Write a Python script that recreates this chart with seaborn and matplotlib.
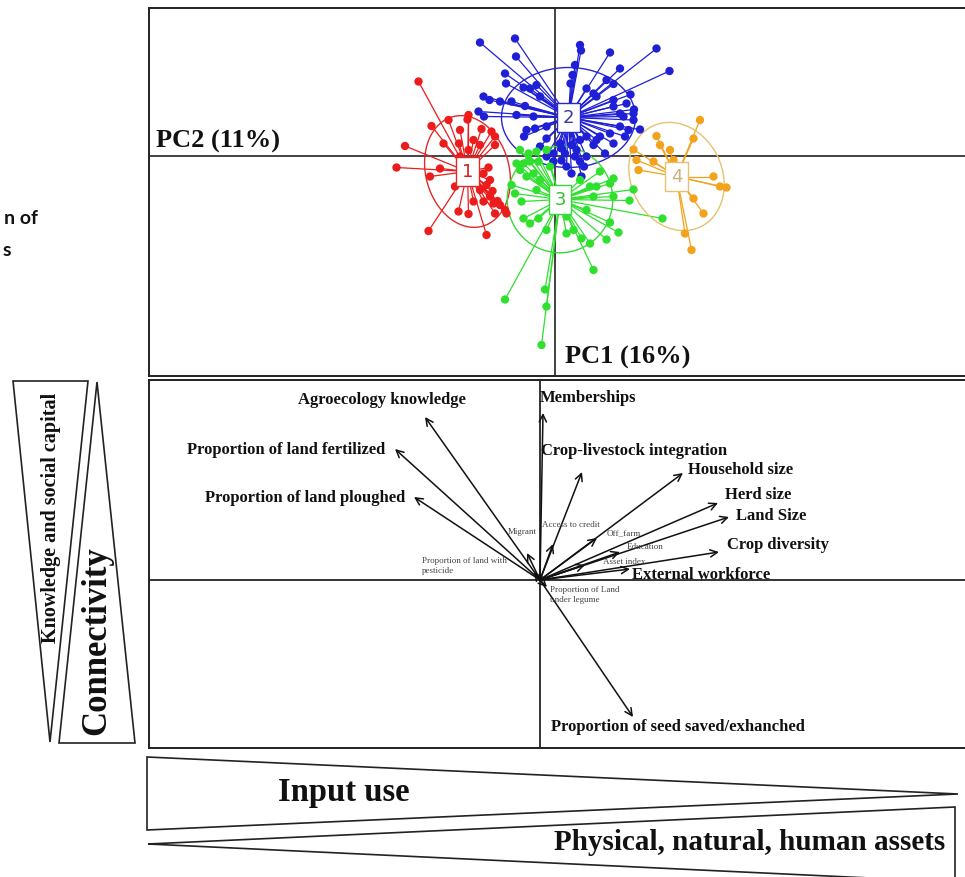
import numpy as np
import pandas as pd
import matplotlib
matplotlib.use("Agg")
import matplotlib.pyplot as plt
import seaborn as sns
from matplotlib.patches import Ellipse, Polygon
from matplotlib.collections import LineCollection

sns.set_style("white")
plt.rcParams['font.family'] = ['Liberation Serif', 'DejaVu Serif']

# ---------------- Data: individual PCA scores per cluster ----------------
c1_x = [-2.73, -3.00, -3.17, -2.50, -2.53, -1.93, -1.73, -1.37, -0.97, -1.20, -2.47, -2.23, -1.90,
        -1.73, -1.75, -1.47, -1.27, -1.20, -1.20, -1.50, -1.73, -1.92, -2.30, -1.33, -1.43, -1.37,
        -1.30, -1.43, -1.63, -1.23, -1.10, -1.00, -1.50, -2.00, -2.13, -1.25, -1.15, -1.63, -1.90,
        -1.30]
c1_y = [1.49, 0.20, -0.23, -0.41, -1.50, -1.11, -1.16, -1.58, -1.15, -1.15, 0.60, 0.25, 0.52,
        0.82, 0.73, 0.54, 0.49, 0.39, 0.22, 0.22, 0.12, 0.25, -0.25, -0.23, -0.35, -0.58,
        -0.81, -0.91, -0.91, -0.95, -0.98, -1.08, -0.68, -0.61, 0.72, -0.70, -0.90, 0.32, -0.01,
        -0.48]

c2_x = [-1.50, -0.80, 0.50, 0.52, 1.10, 2.03, 2.29, 1.30, -0.78, -1.00, -0.98, 0.40, 0.35, 0.31,
        1.03, 1.17, 1.51, 1.58, 1.57, 1.70, -1.43, -1.31, -1.10, -1.53, -1.42, -0.57, -0.62, -0.17,
        -0.03, 0.13, 0.33, 0.53, 0.58, 0.77, 1.17, 1.00, 1.40, 1.47, 0.13, 0.40, -0.03, -0.60,
        -0.63, 0.63, -0.40, -0.17, 1.30, 1.17, 0.77, -0.37, -0.87, 0.23, 0.50, 0.83, 0.10,
        -0.50, -0.30, 0.63, 0.83, 1.17, 1.37, 1.30, 1.10, 0.90, 0.50, 0.33, 0.20, 0.43, 0.63,
        -0.17, -0.30, -0.77, -0.43, 1.43, 1.57]
c2_y = [2.27, 2.35, 2.22, 2.11, 2.07, 2.15, 1.70, 1.75, 1.99, 1.65, 1.45, 1.82, 1.62, 1.45,
        1.52, 1.44, 1.23, 0.93, 0.72, 0.53, 1.19, 1.12, 1.09, 0.89, 0.79, 0.52, 0.39, 0.35,
        0.05, -0.09, -0.35, -0.41, -0.21, 0.22, 0.25, 0.05, 0.39, 0.52, 0.15, -0.01, -0.11, 1.00,
        1.37, 0.39, 0.55, 0.59, 0.85, 1.12, 1.25, 1.42, 1.09, -0.21, -0.11, 0.32, 0.25,
        1.35, 1.19, 1.35, 1.19, 0.99, 0.79, 0.59, 0.45, 0.39, 0.32, 0.22, 0.05, 0.12, -0.01,
        -0.01, 0.19, 0.82, 0.79, 1.05, 0.85]

c3_x = [-1.00, -0.27, -0.20, -0.17, 0.77, 1.27, 1.10, 1.03, 1.57, 1.49, 2.15, 1.17, 0.90, 0.70,
        0.37, 0.53, 0.70, 0.23, -0.80, -0.87, -0.70, -0.53, -0.37, -0.17, -0.70, -0.57, -0.43,
        -0.30, -0.67, -0.63, -0.33, -0.77, 0.77, 0.63, -0.37, -0.50, -0.63, -0.33, -0.10, 0.50,
        0.83, 1.10, 1.17, 0.23, -0.17, -0.50]
c3_y = [-2.87, -3.78, -2.67, -3.01, -2.28, -1.53, -1.33, -1.67, -0.67, -0.89, -1.25, -0.45, -0.31, -0.61,
        -1.48, -1.65, -1.75, -1.21, -0.75, -0.58, 0.12, 0.05, 0.09, 0.12, -0.28, -0.41, -0.35,
        -0.48, -0.91, -1.25, -1.25, -0.15, -0.81, -1.08, -0.68, -0.11, -0.15, -0.11, -0.21, -0.48,
        -0.61, -0.55, -0.81, -1.55, -1.48, -1.35]

c4_x = [2.90, 2.03, 2.10, 2.30, 1.57, 1.63, 1.97, 1.67, 3.43, 3.30, 2.77, 2.97, 2.60, 2.73, 2.77, 3.17, 2.37]
c4_y = [0.72, 0.40, 0.22, 0.12, 0.13, -0.08, -0.11, -0.28, -0.63, -0.61, -0.85, -1.15, -1.55, -1.88, 0.35, -0.41, -0.08]

cluster_names = ["1", "2", "3", "4"]
centroid_x = [-1.75, 0.27, 0.10, 2.43]
centroid_y = [-0.31, 0.77, -0.87, -0.41]
ellipse_w = [1.67, 2.68, 2.11, 1.83]
ellipse_h = [2.27, 2.00, 2.13, 2.23]
ellipse_angle = [15, 0, 0, 25]
cluster_colors = ["#ec1c1c", "#1f1fd6", "#2fe02f", "#f3a21c"]
ellipse_colors = ["#e02a2a", "#2727cc", "#3ad83a", "#e6c270"]
label_text_colors = ["#d02020", "#3a3aa0", "#30c030", "#c8b080"]

pc1_label = "PC1 (16%)"
pc2_label = "PC2 (11%)"

# ---------------- Data: variable loadings ----------------
big_vars = ["Agroecology knowledge", "Proportion of land fertilized", "Proportion of land ploughed",
            "Memberships", "Crop-livestock integration", "Household size", "Herd size",
            "Land Size", "Crop diversity", "External workforce", "Proportion of seed saved/exhanched"]
big_x = [-1.15, -1.45, -1.26, 0.03, 0.42, 1.43, 1.78, 1.89, 1.79, 0.90, 0.93]
big_y = [1.63, 1.31, 0.83, 1.67, 1.08, 1.07, 0.77, 0.63, 0.28, 0.11, -1.37]

small_vars = ["Migrant", "Proportion of land with\npesticide", "Access to credit", "Off_farm",
              "Education", "Asset index", "Proportion of Land\nunder legume"]
small_x = [-0.13, -0.06, 0.13, 0.57, 0.80, 0.45, 0.07]
small_y = [0.27, 0.08, 0.36, 0.42, 0.28, 0.15, -0.07]

# label placement (data units) and alignment
big_lab_x = [-1.58, -1.55, -1.35, 0.00, 0.01, 1.48, 1.85, 1.96, 1.87, 0.92, 0.11]
big_lab_y = [1.80, 1.30, 0.82, 1.82, 1.29, 1.10, 0.85, 0.64, 0.35, 0.05, -1.47]
big_lab_ha = ["center", "right", "right", "left", "left", "left", "left", "left", "left", "left", "left"]
small_lab_x = [-0.03, -1.18, 0.02, 0.67, 0.87, 0.63, 0.10]
small_lab_y = [0.48, 0.14, 0.55, 0.47, 0.33, 0.18, -0.15]
small_lab_ha = ["right", "left", "left", "left", "left", "left", "left"]

# ---------------- Figure ----------------
W, H = 965, 877
fig = plt.figure(figsize=(W / 100, H / 100), dpi=100)

bg = fig.add_axes([0, 0, 1, 1], zorder=0)
bg.set_xlim(0, W)
bg.set_ylim(H, 0)
bg.axis("off")

def panel(top, bottom):
    return fig.add_axes([149 / W, (H - bottom) / H, (W - 149) / W, (bottom - top) / H], zorder=2)

# ---- top panel: individuals by cluster ----
ax1 = panel(8, 376)
ax1.set_xlim((149 - 555) / 50, (W - 555) / 50)
ax1.set_ylim((156 - 376) / 50, (156 - 8) / 50)

xs = [c1_x, c2_x, c3_x, c4_x]
ys = [c1_y, c2_y, c3_y, c4_y]
rows = []
for name, cx, cy in zip(cluster_names, xs, ys):
    for a, b in zip(cx, cy):
        rows.append((name, a, b))
df = pd.DataFrame(rows, columns=["cluster", "PC1", "PC2"])

ax1.axhline(0, color="#111", lw=1.1, zorder=1)
ax1.axvline(0, color="#111", lw=1.1, zorder=1)

for i, name in enumerate(cluster_names):
    sub = df[df.cluster == name]
    segs = [[(centroid_x[i], centroid_y[i]), (a, b)] for a, b in zip(sub.PC1, sub.PC2)]
    ax1.add_collection(LineCollection(segs, colors=cluster_colors[i], linewidths=0.9, zorder=2))
    ax1.add_patch(Ellipse((centroid_x[i], centroid_y[i]), ellipse_w[i], ellipse_h[i],
                          angle=ellipse_angle[i], fill=False, ec=ellipse_colors[i], lw=1.0, zorder=2))

sns.scatterplot(data=df, x="PC1", y="PC2", hue="cluster", palette=dict(zip(cluster_names, cluster_colors)),
                s=36, linewidth=0, legend=False, ax=ax1, zorder=3)

for i, name in enumerate(cluster_names):
    ax1.text(centroid_x[i], centroid_y[i], name, ha="center", va="center", fontsize=13,
             family="DejaVu Sans", color=label_text_colors[i], zorder=5,
             bbox=dict(boxstyle="square,pad=0.3", fc="white", ec=ellipse_colors[i], lw=1.0))

ax1.text((156 - 555) / 50, (156 - 141) / 50, pc2_label, ha="left", va="center",
         fontsize=19, weight="bold", color="#111")
ax1.text((565 - 555) / 50, (156 - 357) / 50, pc1_label, ha="left", va="center",
         fontsize=19, weight="bold", color="#111")

# ---- bottom panel: variable arrows ----
ax2 = panel(380, 748)
ax2.set_xlim((149 - 540) / 100, (W - 540) / 100)
ax2.set_ylim((580 - 748) / 100, (580 - 380) / 100)
ax2.axhline(0, color="#111", lw=1.2, zorder=1)
ax2.axvline(0, color="#111", lw=1.2, zorder=1)

for tx, ty in zip(big_x + small_x, big_y + small_y):
    ax2.annotate("", xy=(tx, ty), xytext=(0, 0),
                 arrowprops=dict(arrowstyle="->", lw=1.1, color="#111", mutation_scale=13,
                                 shrinkA=0, shrinkB=0), zorder=3)

for lab, lx, ly, ha in zip(big_vars, big_lab_x, big_lab_y, big_lab_ha):
    ax2.text(lx, ly, lab, ha=ha, va="center", fontsize=12, weight="bold", color="#111")
for lab, lx, ly, ha in zip(small_vars, small_lab_x, small_lab_y, small_lab_ha):
    ax2.text(lx, ly, lab, ha=ha, va="center", fontsize=6.5, color="#444", linespacing=1.3)

for ax in (ax1, ax2):
    ax.set_xticks([])
    ax.set_yticks([])
    ax.set_xlabel("")
    ax.set_ylabel("")
    for side in ("left", "top", "bottom"):
        ax.spines[side].set_color("#222")
        ax.spines[side].set_linewidth(1.4)
    ax.spines["right"].set_visible(False)

# ---- gradient triangles (decoration) ----
tri_kw = dict(closed=True, fill=False, ec="#222", lw=1.2)
bg.add_patch(Polygon([(13, 381), (88, 381), (50, 742)], **tri_kw))
bg.add_patch(Polygon([(97, 382), (59, 743), (135, 743)], **tri_kw))
bg.add_patch(Polygon([(147, 757), (147, 830), (958, 794)], **tri_kw))
bg.add_patch(Polygon([(148, 844), (955, 807), (955, 882)], **tri_kw))

bg.text(51, 518, "Knowledge and social capital", rotation=90, ha="center", va="center",
        fontsize=14.5, weight="bold", color="#111")
bg.text(97, 641, "Connectivity", rotation=90, ha="center", va="center",
        fontsize=25, weight="bold", color="#111")
bg.text(344, 793, "Input use", ha="center", va="center", fontsize=23.5, weight="bold", color="#111")
bg.text(945, 842, "Physical, natural, human assets", ha="right", va="center",
        fontsize=21, weight="bold", color="#111")

# cut-off caption fragment at the far left
bg.text(38, 218, "n of", ha="right", va="center", fontsize=14, weight="bold",
        family=["Lato", "DejaVu Sans"], color="#111")
bg.text(11, 250, "s", ha="right", va="center", fontsize=14, weight="bold",
        family=["Lato", "DejaVu Sans"], color="#111")

fig.savefig("out.png", dpi=100)
